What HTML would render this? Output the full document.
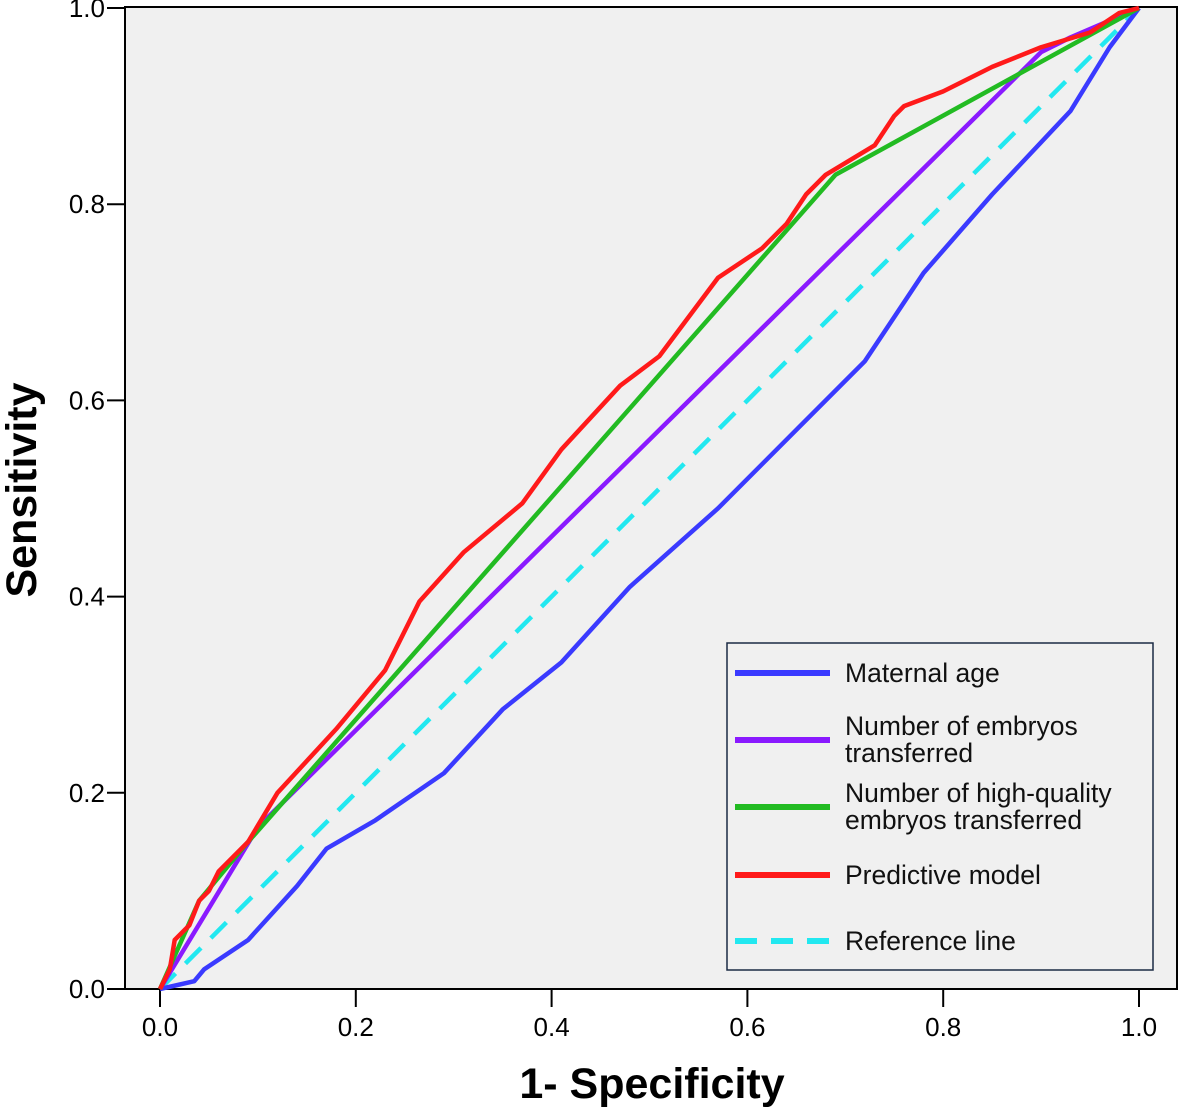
<!DOCTYPE html>
<html><head><meta charset="utf-8"><style>
body{margin:0;background:#fff}
svg{display:block;font-family:"Liberation Sans",Arial,sans-serif}
</style></head><body>
<svg width="1181" height="1111">
<rect x="125" y="7" width="1052" height="982" fill="#f0f0f0" stroke="#000" stroke-width="2"/>
<g id="axes"></g>
<g id="series"></g>
<text x="652" y="1098" text-anchor="middle" font-size="43" font-weight="bold">1- Specificity</text>
<text transform="translate(36,490) rotate(-90)" text-anchor="middle" font-size="43" font-weight="bold">Sensitivity</text>
<g>
<rect x="727" y="643" width="426" height="327" fill="#f0f0f0" stroke="#1a2a44" stroke-width="1.5"/>
<g id="legend-items"></g>
</g>
</svg>
<script>
const ticks=[0,0.2,0.4,0.6,0.8,1.0];
const seriesNames=["Maternal age","Number of embryos|transferred","Number of high-quality|embryos transferred","Predictive model","Reference line"];
const seriesColors=["#3a3aff","#8a1aff","#22bb22","#ff1a1a","#22e8f0"];
const maternalX=[0,0.035,0.045,0.09,0.14,0.17,0.22,0.29,0.35,0.41,0.48,0.57,0.65,0.72,0.78,0.85,0.93,0.97,1];
const maternalY=[0,0.008,0.02,0.05,0.105,0.143,0.172,0.22,0.285,0.333,0.41,0.49,0.57,0.64,0.73,0.81,0.895,0.96,1];
const embryosX=[0,0.1,0.9,0.93,1];
const embryosY=[0,0.165,0.955,0.97,1];
const hqX=[0,0.04,0.09,0.69,1];
const hqY=[0,0.09,0.15,0.83,1];
const modelX=[0,0.01,0.015,0.03,0.04,0.05,0.06,0.09,0.12,0.18,0.23,0.265,0.31,0.37,0.41,0.47,0.51,0.57,0.615,0.64,0.66,0.68,0.73,0.75,0.76,0.8,0.85,0.9,0.95,0.98,1];
const modelY=[0,0.02,0.05,0.065,0.09,0.1,0.12,0.15,0.2,0.265,0.325,0.395,0.445,0.495,0.55,0.615,0.645,0.725,0.755,0.78,0.81,0.83,0.86,0.89,0.9,0.915,0.94,0.96,0.975,0.995,1];
const refX=[0,1];
const refY=[0,1];
const NS="http://www.w3.org/2000/svg";
const sx=v=>160+v*979, sy=v=>989-v*981;
function mk(t,a,p){const e=document.createElementNS(NS,t);for(const k in a)e.setAttribute(k,a[k]);p.appendChild(e);return e;}
const ax=document.getElementById('axes');
ticks.forEach(t=>{
 const l=mk('line',{x1:sx(t),x2:sx(t),y1:989,y2:1007,stroke:'#000','stroke-width':2},ax);
 
 
 const tx=mk('text',{x:sx(t),y:1036,'text-anchor':'middle','font-size':26},ax);tx.textContent=t.toFixed(1);
 
 
 const l2=mk('line',{x1:107,x2:125,y1:sy(t),y2:sy(t),stroke:'#000','stroke-width':2},ax);
 
 
 const ty=mk('text',{x:105,y:sy(t)+9,'text-anchor':'end','font-size':26},ax);ty.textContent=t.toFixed(1);
 
 
});
const sg=document.getElementById('series');
const data=[[refX,refY,4],[maternalX,maternalY,0],[embryosX,embryosY,1],[hqX,hqY,2],[modelX,modelY,3]];
data.forEach(([xs,ys,i])=>{
 const pts=xs.map((x,j)=>sx(x)+','+sy(ys[j])).join(' ');
 const a={points:pts,fill:'none',stroke:seriesColors[i],'stroke-width':4.5,'stroke-linejoin':'round'};
 if(i===4)a['stroke-dasharray']='22,14';
 const p=mk('polyline',a,sg);
 
 
});
const lg=document.getElementById('legend-items');
const ly=[673,740,807,875,941];
seriesNames.forEach((n,i)=>{
 const a={x1:735,x2:830,y1:ly[i],y2:ly[i],stroke:seriesColors[i],'stroke-width':6};
 if(i===4)a['stroke-dasharray']='22,14';
 const l=mk('line',a,lg);
 
 
 const parts=n.split('|');
 const t=mk('text',{x:845,y:ly[i]+(parts.length>1?-5:9),'font-size':26.5,fill:'#111'},lg);
 
 
 parts.forEach((s,k)=>{const ts=mk('tspan',{x:845,dy:k?27:0},t);ts.textContent=s;});
});
</script>
</body></html>
